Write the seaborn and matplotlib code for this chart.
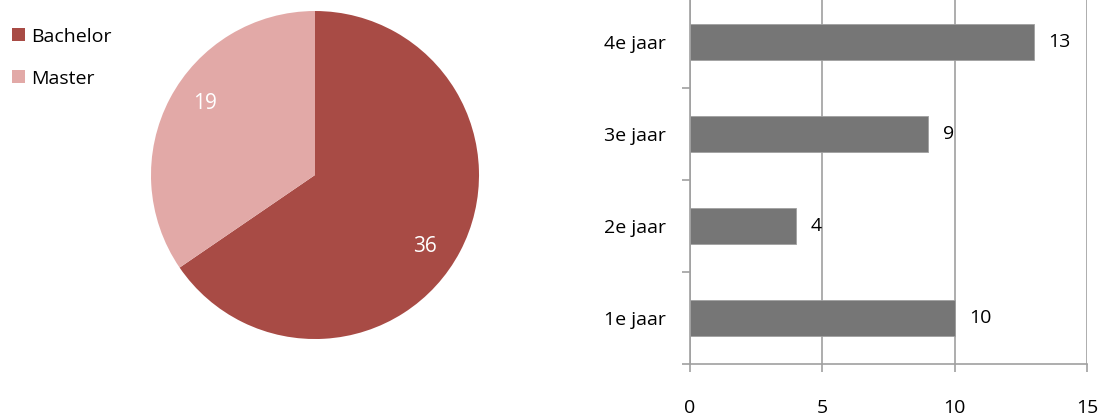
import matplotlib
matplotlib.use('Agg')
import matplotlib.pyplot as plt
import seaborn as sns
import pandas as pd

# data
pie_labels = ['Bachelor', 'Master']
pie_values = [36, 19]
pie_colors = ['#A84B45', '#E2A9A7']

years = ['4e jaar', '3e jaar', '2e jaar', '1e jaar']
year_counts = [13, 9, 4, 10]

sns.set_theme(style='white')
plt.rcParams['font.family'] = ['Open Sans', 'DejaVu Sans']
plt.rcParams['text.color'] = 'black'
plt.rcParams['xtick.color'] = 'black'
plt.rcParams['ytick.color'] = 'black'

fig = plt.figure(figsize=(11.2, 4.17), dpi=100)

# pie chart
total = sum(pie_values)
ax1 = fig.add_axes([0.1348, 0.187, 0.2929, 0.7866])
wedges, texts, autotexts = ax1.pie(
    pie_values, colors=pie_colors, startangle=85, counterclock=False,
    autopct=lambda p: '%d' % round(p * total / 100), pctdistance=0.8,
    wedgeprops={'linewidth': 0},
    textprops={'color': 'white', 'fontsize': 15})
# keep the wedges at the top start, only labels are nudged
for w in wedges:
    w.set_theta1(w.theta1 + 5)
    w.set_theta2(w.theta2 + 5)
ax1.set_xlim(-1, 1)
ax1.set_ylim(-1, 1)
ax1.set_aspect('equal')
ax1.legend(wedges, pie_labels, loc='upper left', bbox_to_anchor=(0.004, 0.952),
           bbox_transform=fig.transFigure, frameon=False, fontsize=14,
           handlelength=0.65, handleheight=0.65, handletextpad=0.3,
           labelspacing=1.22, borderaxespad=0)

# bar chart
ax2 = fig.add_axes([0.616, 0.127, 0.3545, 0.8825])
df = pd.DataFrame({'year': years, 'count': year_counts})
sns.barplot(data=df, x='count', y='year', order=years, color='#767676',
            saturation=1, width=0.4, orient='h', ax=ax2,
            edgecolor='#a0a0a0', linewidth=0.6)
ax2.set_xlim(0, 15)
ax2.set_ylim(3.5, -0.5)
ax2.set_xticks([0, 5, 10, 15])
ax2.xaxis.grid(True, color='#A0A0A0', linewidth=1.2)
ax2.set_axisbelow(True)
ax2.set_xlabel('')
ax2.set_ylabel('')
for s in ['top', 'right']:
    ax2.spines[s].set_visible(False)
for s in ['left', 'bottom']:
    ax2.spines[s].set_color('#A0A0A0')
    ax2.spines[s].set_linewidth(1.2)
ax2.tick_params(axis='y', which='major', length=0, pad=17, labelsize=14)
ax2.set_yticks([-0.5, 0.5, 1.5, 2.5, 3.5], minor=True)
ax2.tick_params(axis='y', which='minor', left=True, length=6, width=1.2,
                color='#A0A0A0')
ax2.tick_params(axis='x', bottom=True, length=6, width=1.2, color='#A0A0A0',
                pad=19, labelsize=14)

for i, v in enumerate(year_counts):
    ax2.text(v + 0.55, i, str(v), va='center', ha='left', fontsize=14)

plt.savefig('out.png', dpi=100)
